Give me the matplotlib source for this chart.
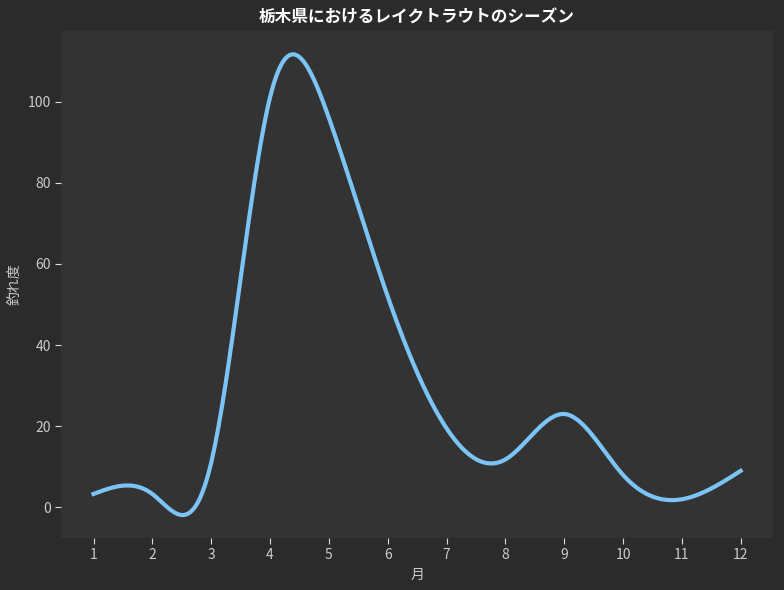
import numpy as np
import matplotlib
matplotlib.use("Agg")
import matplotlib.pyplot as plt

plt.rcParams['font.family'] = ['Noto Sans CJK JP', 'DejaVu Sans']

months = [1, 2, 3, 4, 5, 6, 7, 8, 9, 10, 11, 12]
catch_score = [3.3, 3.3, 11, 101, 96, 52, 19.5, 11.8, 23, 8, 2, 9]
month_labels = ['1', '2', '3', '4', '5', '6', '7', '8', '9', '10', '11', '12']


def natural_spline(x, y, xs):
    x = np.asarray(x, float)
    y = np.asarray(y, float)
    n = len(x)
    h = np.diff(x)
    A = np.zeros((n, n))
    b = np.zeros(n)
    A[0, 0] = 1.0
    A[-1, -1] = 1.0
    for i in range(1, n - 1):
        A[i, i - 1] = h[i - 1]
        A[i, i] = 2 * (h[i - 1] + h[i])
        A[i, i + 1] = h[i]
        b[i] = 6 * ((y[i + 1] - y[i]) / h[i] - (y[i] - y[i - 1]) / h[i - 1])
    M = np.linalg.solve(A, b)
    idx = np.clip(np.searchsorted(x, xs) - 1, 0, n - 2)
    x0, x1 = x[idx], x[idx + 1]
    hh = x1 - x0
    t0 = x1 - xs
    t1 = xs - x0
    return (M[idx] * t0 ** 3 / (6 * hh) + M[idx + 1] * t1 ** 3 / (6 * hh)
            + (y[idx] / hh - M[idx] * hh / 6) * t0
            + (y[idx + 1] / hh - M[idx + 1] * hh / 6) * t1)


xs = np.linspace(min(months), max(months), 400)
ys = natural_spline(months, catch_score, xs)

fig = plt.figure(figsize=(7.84, 5.90), dpi=100, facecolor='#2b2b2b')
ax = fig.add_axes([0.078, 0.088, 0.908, 0.859])
ax.set_facecolor('#333333')
ax.plot(xs, ys, color='#7cc4f6', linewidth=3)

ax.set_xticks(months)
ax.set_xticklabels(month_labels)
for s in ax.spines.values():
    s.set_visible(False)
ax.tick_params(colors='#dddddd', labelcolor='#cccccc', labelsize=10, length=4)
ax.set_xlabel('月', color='#cccccc', fontsize=10)
ax.set_ylabel('釣れ度', color='#cccccc', fontsize=10)
ax.set_title('栃木県におけるレイクトラウトのシーズン', color='white',
             fontsize=12, fontweight='bold')

fig.savefig('out.png', dpi=100, facecolor=fig.get_facecolor())
